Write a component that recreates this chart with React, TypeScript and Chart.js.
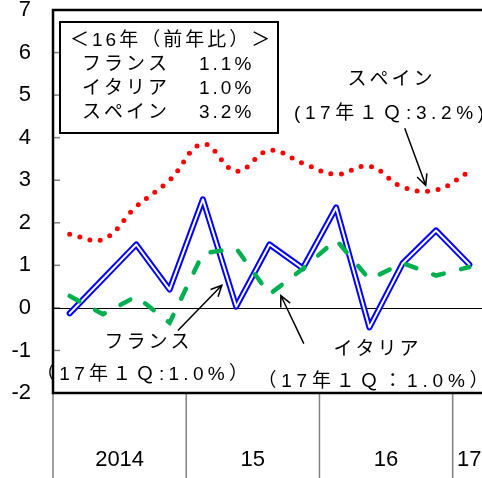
import React, { useEffect, useRef } from 'react';
import { Chart, registerables } from 'chart.js';

Chart.register(...registerables);

const quarters = [
  '2014Q1', '2014Q2', '2014Q3', '2014Q4',
  '2015Q1', '2015Q2', '2015Q3', '2015Q4',
  '2016Q1', '2016Q2', '2016Q3', '2016Q4',
  '2017Q1',
];
const yearLabels = ['2014', '15', '16', '17'];
const quartersPerYear = [4, 4, 4, 1];
const yTicks = [-2, -1, 0, 1, 2, 3, 4, 5, 6, 7];

const france = [-0.13, 0.68, 1.49, 0.43, 2.55, 0.03, 1.49, 0.93, 2.36, -0.46, 1.05, 1.82, 1.02];
const italy = [0.28, -0.15, 0.27, -0.35, 1.28, 1.4, 0.32, 0.92, 1.6, 0.67, 1.05, 0.76, 0.96];
const spain = [1.73, 1.61, 2.38, 3.0, 3.85, 3.21, 3.7, 3.4, 3.14, 3.33, 2.84, 2.77, 3.2];

const legendTitle = '＜16年（前年比）＞';
const legendRows = [
  ['フランス', '1.1%'],
  ['イタリア', '1.0%'],
  ['スペイン', '3.2%'],
];

const notes = [
  { name: 'スペイン', sub: '(17年１Ｑ:3.2%)', nx: 390, ny: 80, sx: 389, sy: 114, sp: 4.6, tail: [10.06, 4.22], tip: [10.69, 2.88] },
  { name: 'フランス', sub: '（17年１Ｑ:1.0%）', nx: 147, ny: 343, sx: 142, sy: 375, sp: 4.3, tail: [3.25, -0.53], tip: [4.57, 0.53] },
  { name: 'イタリア', sub: '（17年１Ｑ：1.0%）', nx: 376, ny: 350, sx: 373, sy: 382, sp: 4.8, tail: [7.03, -0.84], tip: [6.34, 0.29] },
];

const FONT = '"Liberation Sans", "Noto Sans CJK JP", sans-serif';

function spacedText(ctx: CanvasRenderingContext2D, text: string, x: number, y: number, align: 'left' | 'center', spacing: number) {
  const chars = Array.from(text);
  const widths = chars.map((c) => ctx.measureText(c).width);
  const total = widths.reduce((a, b) => a + b, 0) + spacing * (chars.length - 1);
  let cx = align === 'center' ? x - total / 2 : x;
  ctx.textAlign = 'left';
  chars.forEach((c, i) => {
    ctx.fillText(c, cx, y);
    cx += widths[i] + spacing;
  });
}

function arrow(ctx: CanvasRenderingContext2D, x1: number, y1: number, x2: number, y2: number) {
  const ang = Math.atan2(y2 - y1, x2 - x1);
  const len = 12;
  const spread = 0.45;
  ctx.beginPath();
  ctx.moveTo(x1, y1);
  ctx.lineTo(x2, y2);
  ctx.moveTo(x2 - len * Math.cos(ang - spread), y2 - len * Math.sin(ang - spread));
  ctx.lineTo(x2, y2);
  ctx.lineTo(x2 - len * Math.cos(ang + spread), y2 - len * Math.sin(ang + spread));
  ctx.stroke();
}

const overlay = {
  id: 'overlay',
  beforeDatasetsDraw(chart: any) {
    const { ctx, chartArea: a, scales } = chart;
    const y = scales.y;
    ctx.save();
    ctx.strokeStyle = '#808080';
    ctx.lineWidth = 1.5;
    for (const t of yTicks) {
      const py = y.getPixelForValue(t);
      ctx.beginPath();
      ctx.moveTo(a.left, py);
      ctx.lineTo(a.left + 7, py);
      ctx.stroke();
    }
    ctx.strokeStyle = '#000';
    ctx.lineWidth = 1;
    const z = Math.round(y.getPixelForValue(0)) + 0.5;
    ctx.beginPath();
    ctx.moveTo(a.left, z);
    ctx.lineTo(a.right, z);
    ctx.stroke();
    ctx.restore();
  },
  afterDraw(chart: any) {
    const { ctx, chartArea: a, scales } = chart;
    const x = scales.x;
    const y = scales.y;
    const H = chart.height;
    ctx.save();
    // year separators and labels
    ctx.strokeStyle = '#808080';
    ctx.lineWidth = 1.5;
    ctx.fillStyle = '#000';
    ctx.font = '22px ' + FONT;
    ctx.textBaseline = 'middle';
    ctx.textAlign = 'center';
    let start = 0;
    quartersPerYear.forEach((n, i) => {
      const bx = x.getPixelForValue(start - 0.5);
      ctx.beginPath();
      ctx.moveTo(bx, a.bottom);
      ctx.lineTo(bx, H);
      ctx.stroke();
      const cx = x.getPixelForValue(start + (n - 1) / 2);
      ctx.fillText(yearLabels[i], cx, 460);
      start += n;
    });
    // plot frame
    ctx.strokeStyle = '#000';
    ctx.lineWidth = 2.5;
    ctx.beginPath();
    ctx.moveTo(a.right + 5, a.top);
    ctx.lineTo(a.left, a.top);
    ctx.lineTo(a.left, a.bottom);
    ctx.lineTo(a.right + 5, a.bottom);
    ctx.stroke();

    // legend box
    ctx.fillStyle = '#fff';
    ctx.fillRect(60, 22, 218, 111);
    ctx.lineWidth = 2;
    ctx.strokeRect(60, 22, 218, 111);
    ctx.fillStyle = '#000';
    ctx.font = '19px ' + FONT;
    spacedText(ctx, legendTitle, 70, 41, 'left', 3);
    legendRows.forEach((r, i) => {
      const ry = 65 + i * 23.7;
      spacedText(ctx, r[0], 82, ry, 'left', 3);
      spacedText(ctx, r[1], 199, ry, 'left', 3);
    });

    // annotations
    ctx.lineWidth = 1.5;
    notes.forEach((n) => {
      spacedText(ctx, n.name, n.nx, n.ny, 'center', 3);
      spacedText(ctx, n.sub, n.sx, n.sy, 'center', n.sp);
      arrow(
        ctx,
        x.getPixelForValue(n.tail[0]), y.getPixelForValue(n.tail[1]),
        x.getPixelForValue(n.tip[0]), y.getPixelForValue(n.tip[1])
      );
    });
    ctx.restore();
  },
};

export default function App() {
  const ref = useRef<HTMLCanvasElement>(null);
  useEffect(() => {
    if (!ref.current) return;
    const chart = new Chart(ref.current, {
      type: 'line',
      data: {
        labels: quarters,
        datasets: [
          {
            data: spain,
            borderColor: '#ff0000',
            borderWidth: 5,
            borderDash: [0, 10.5],
            borderCapStyle: 'round',
            pointRadius: 0,
            tension: 0.4,
            order: 1,
          },
          {
            data: italy,
            borderColor: '#00b050',
            borderWidth: 4.5,
            borderDash: [11, 18],
            borderCapStyle: 'round',
            pointRadius: 0,
            tension: 0,
            order: 2,
          },
          {
            data: france,
            borderColor: '#ffffff',
            borderWidth: 2,
            borderCapStyle: 'round',
            borderJoinStyle: 'round',
            pointRadius: 0,
            tension: 0,
            order: 3,
          },
          {
            data: france,
            borderColor: '#0000ff',
            borderWidth: 6,
            borderCapStyle: 'round',
            borderJoinStyle: 'round',
            pointRadius: 0,
            tension: 0,
            order: 4,
          },
        ],
      },
      options: {
        responsive: false,
        animation: false,
        events: [],
        layout: { padding: { top: 10, left: 0, right: 0, bottom: 0 } },
        plugins: { legend: { display: false }, tooltip: { enabled: false } },
        scales: {
          x: {
            offset: true,
            grid: { display: false },
            border: { display: false },
            ticks: { display: false },
            afterFit: (s: any) => { s.height = 85; s.paddingLeft = 0; s.paddingRight = 0; },
          },
          y: {
            min: -2,
            max: 7,
            afterBuildTicks: (s: any) => { s.ticks = yTicks.map((v) => ({ value: v })); },
            grid: { display: false, drawTicks: false },
            border: { display: false },
            ticks: {
              color: '#000',
              padding: 22,
              font: { family: FONT, size: 22 },
            },
            afterFit: (s: any) => { s.width = 53; s.paddingTop = 0; s.paddingBottom = 0; },
          },
        },
      },
      plugins: [overlay],
    });
    return () => chart.destroy();
  }, []);
  return (
    <div style={{ position: 'fixed', left: 0, top: 0, width: 482, height: 478, overflow: 'hidden', background: '#fff' }}>
      <canvas ref={ref} width={486} height={478} style={{ display: 'block' }} />
    </div>
  );
}
